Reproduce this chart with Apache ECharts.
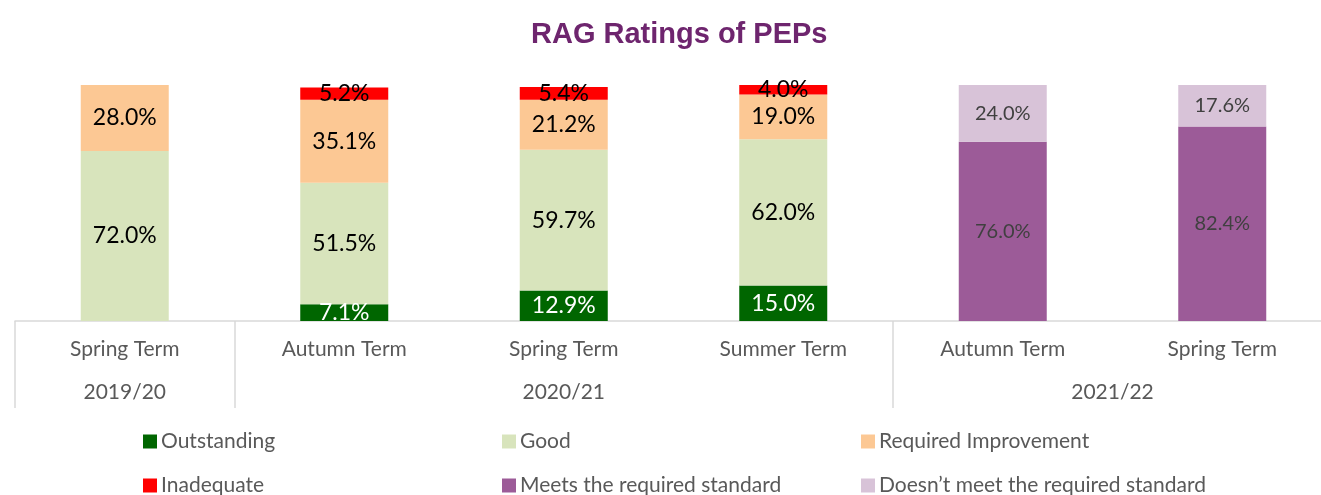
<!DOCTYPE html>
<html>
<head>
<meta charset="utf-8">
<script src="https://cdn.jsdelivr.net/npm/echarts@6/dist/echarts.min.js"></script>
<style>
  html, body { margin: 0; padding: 0; background: #fff; }
  #chart { width: 1321px; height: 495px; }
</style>
</head>
<body>
<div id="chart"></div>
<script>
var terms = ['Spring Term', 'Autumn Term', 'Spring Term', 'Summer Term', 'Autumn Term', 'Spring Term'];
// year groups: label and centre position on a 0..6 slot scale
var years = ['2019/20', '2020/21', '2021/22'];
var yearPos = [0.5, 2.5, 5];
var groupStarts = [0, 1, 4];

var outstanding = [null, 7.1, 12.9, 15.0, null, null];
var good = [72.0, 51.5, 59.7, 62.0, null, null];
var requiredImprovement = [28.0, 35.1, 21.2, 19.0, null, null];
var inadequate = [null, 5.2, 5.4, 4.0, null, null];
var meets = [null, null, null, null, 76.0, 82.4];
var doesntMeet = [null, null, null, null, 24.0, 17.6];

var seriesNames = ['Outstanding', 'Good', 'Required Improvement',
  'Inadequate', 'Meets the required standard', 'Doesn\u2019t meet the required standard'];

var font = 'Lato, "Open Sans", sans-serif';

function barSeries(name, data, color, labelColor, labelSize) {
  return {
    name: name,
    type: 'bar',
    stack: 'total',
    barWidth: 88,
    data: data,
    itemStyle: { color: color },
    label: {
      show: true,
      position: 'inside',
      formatter: function (p) { return p.value == null ? '' : p.value.toFixed(1) + '%'; },
      color: labelColor,
      fontSize: labelSize,
      fontFamily: font
    }
  };
}

// one legend per item so the entries sit in fixed columns like the original
var legendCols = [143, 502, 861];
var legendRows = [431, 475];
var legends = seriesNames.map(function (name, i) {
  return {
    data: [name],
    left: legendCols[i % 3],
    top: legendRows[Math.floor(i / 3)],
    padding: 0,
    icon: 'rect', itemWidth: 14, itemHeight: 14, itemGap: 0,
    textStyle: { color: '#595959', fontSize: 21, fontFamily: font, padding: [0, 0, 0, -1] }
  };
});

var chart = echarts.init(document.getElementById('chart'));
var option = {
  animation: false,
  title: {
    text: 'RAG Ratings of PEPs',
    left: 526,
    top: 15,
    textStyle: { color: '#6E256E', fontSize: 29, fontWeight: 'bold', fontFamily: 'Liberation Sans, Arial, sans-serif' }
  },
  legend: legends,
  grid: { left: 15, top: 85, width: 1317, height: 236, outerBoundsMode: 'none', containLabel: false },
  xAxis: [
    {
      type: 'category',
      data: terms,
      axisLine: { show: true, lineStyle: { color: '#d9d9d9', width: 1.5 } },
      axisTick: {
        show: true,
        length: 87,
        interval: function (index) { return groupStarts.indexOf(index) >= 0; },
        lineStyle: { color: '#d9d9d9', width: 1.5 }
      },
      axisLabel: { color: '#595959', fontSize: 21, fontFamily: font, margin: 18, interval: 0 }
    },
    {
      type: 'value',
      position: 'bottom',
      min: 0,
      max: 6,
      interval: 0.5,
      offset: 50,
      axisLine: { show: false },
      axisTick: { show: false },
      splitLine: { show: false },
      axisLabel: {
        color: '#595959', fontSize: 21, fontFamily: font, margin: 11,
        showMinLabel: true, showMaxLabel: true,
        formatter: function (v) {
          var i = yearPos.indexOf(v);
          return i >= 0 ? years[i] : '';
        }
      }
    }
  ],
  yAxis: { type: 'value', min: 0, max: 100, show: false, splitLine: { show: false } },
  series: [
    barSeries(seriesNames[0], outstanding, '#006600', '#ffffff', 23),
    barSeries(seriesNames[1], good, '#D8E4BC', '#000000', 23),
    barSeries(seriesNames[2], requiredImprovement, '#FCC894', '#000000', 23),
    barSeries(seriesNames[3], inadequate, '#FF0000', '#000000', 23),
    barSeries(seriesNames[4], meets, '#9C5B98', '#404040', 20),
    barSeries(seriesNames[5], doesntMeet, '#D8C3D8', '#404040', 20)
  ]
};
chart.setOption(option);
</script>
</body>
</html>
